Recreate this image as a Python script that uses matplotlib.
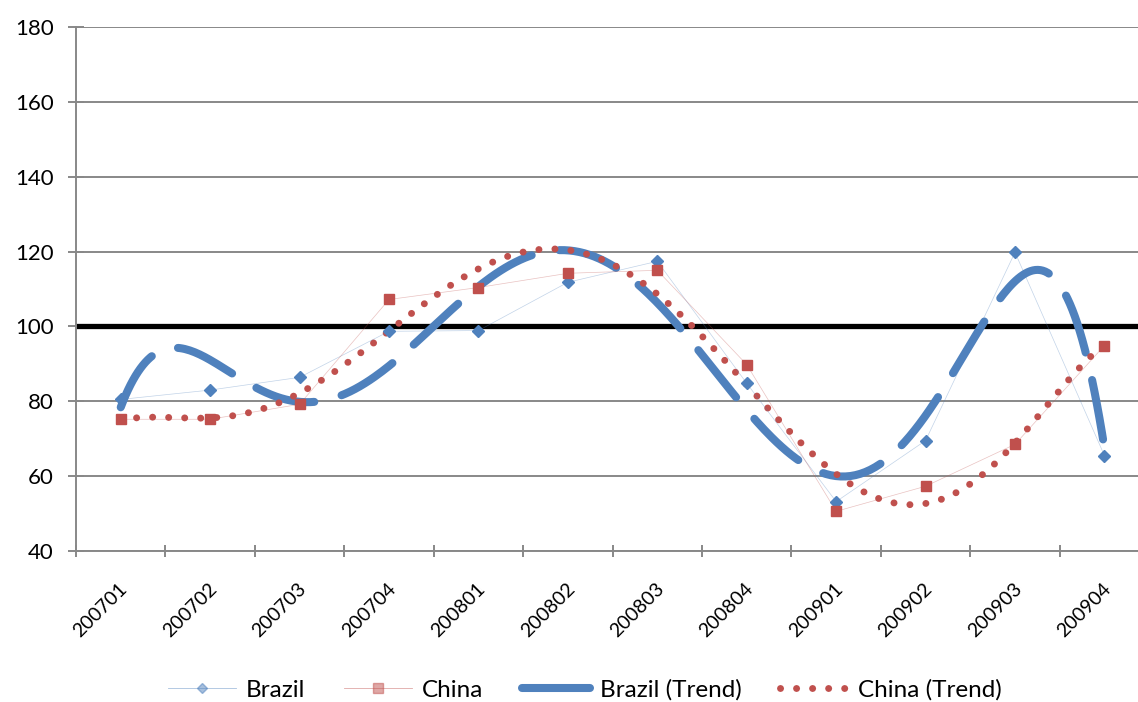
import numpy as np
import matplotlib
matplotlib.use("Agg")
import matplotlib.pyplot as plt
from matplotlib.ticker import FixedLocator, NullFormatter
from matplotlib.transforms import ScaledTranslation

plt.rcParams['font.family'] = ['Lato', 'DejaVu Sans']

quarters = ["200701", "200702", "200703", "200704", "200801", "200802",
            "200803", "200804", "200901", "200902", "200903", "200904"]
brazil = [80.5, 83.0, 86.4, 98.7, 98.9, 111.8, 117.4, 84.8, 53.2, 69.5, 119.8, 65.5]
china = [75.2, 75.2, 79.2, 107.2, 110.4, 114.2, 115.0, 89.8, 50.6, 57.3, 68.5, 94.9]

BLUE = "#4F81BD"
RED = "#C0504D"
GREY = "#888888"

fig = plt.figure(figsize=(11.38, 7.02), dpi=100)
ax = fig.add_axes([0.0668, 0.2151, 0.943, 0.7464])

x = np.arange(len(quarters))
xn = x + 1  # trendline fit uses 1-based category index

# 6th order polynomial trendlines fitted on each series
bfit = np.polyfit(xn, brazil, 6)
cfit = np.polyfit(xn, china, 6)
xs = np.linspace(1, 12, 400)

ax.axhline(100, color="black", lw=3.8, zorder=2)

ax.plot(x, brazil, color=BLUE, lw=0.5, alpha=0.35, zorder=4)
ax.plot(x, china, color=RED, lw=0.5, alpha=0.35, zorder=4)
ax.plot(x, brazil, ls="none", marker="D", ms=6, color=BLUE, zorder=5)
ax.plot(x, china, ls="none", marker="s", ms=7.5, color=RED, zorder=5)

bt, = ax.plot(xs - 1, np.polyval(bfit, xs), color=BLUE, lw=5.8,
              dash_capstyle="round", zorder=3)
bt.set_dashes([7.5, 3.5])
ct, = ax.plot(xs - 1, np.polyval(cfit, xs), color=RED, lw=5.0,
              dash_capstyle="round", zorder=3)
ct.set_dashes([0.01, 2.3])

ax.set_xlim(-0.5, 11.5)
ax.set_ylim(40, 180)
ax.set_yticks(range(40, 181, 20))
ax.yaxis.grid(True, color=GREY, lw=1.4)
ax.set_axisbelow(True)

ax.set_xticks(x)
ax.set_xticklabels(quarters, rotation=45, ha="right", va="center",
                   rotation_mode="anchor", fontsize=14)
ax.tick_params(axis="x", length=0, pad=25)
shift = ScaledTranslation(4 / 100, 0, fig.dpi_scale_trans)
for lab in ax.get_xticklabels():
    lab.set_transform(lab.get_transform() + shift)
ax.xaxis.set_minor_locator(FixedLocator(np.arange(-0.5, 12, 1)))
ax.xaxis.set_minor_formatter(NullFormatter())
ax.tick_params(axis="x", which="minor", direction="inout", length=8,
               color=GREY, width=1.4)
ax.tick_params(axis="y", direction="inout", length=12, color=GREY, width=1.4,
               labelsize=16, pad=10)

for side in ("top", "right"):
    ax.spines[side].set_visible(False)
for side in ("left", "bottom"):
    ax.spines[side].set_color(GREY)
    ax.spines[side].set_linewidth(1.4)

handles = [
    plt.Line2D([], [], color=BLUE, lw=0.6, alpha=0.5, marker="D", ms=5,
               mfc=BLUE, mec=BLUE),
    plt.Line2D([], [], color=RED, lw=0.6, alpha=0.5, marker="s", ms=6.5,
               mfc=RED, mec=RED),
    plt.Line2D([], [], color=BLUE, lw=5.8, solid_capstyle="round"),
    plt.Line2D([], [], color=RED, lw=5.0, dash_capstyle="round",
               dashes=[0.01, 2.3]),
]
fig.legend(handles, ["Brazil", "China", "Brazil (Trend)", "China (Trend)"],
           loc="center", bbox_to_anchor=(0.514, 0.017), ncol=4, frameon=False,
           fontsize=17.5, handlelength=2.8, columnspacing=1.6,
           handletextpad=0.4)

fig.savefig("out.png", dpi=100)
